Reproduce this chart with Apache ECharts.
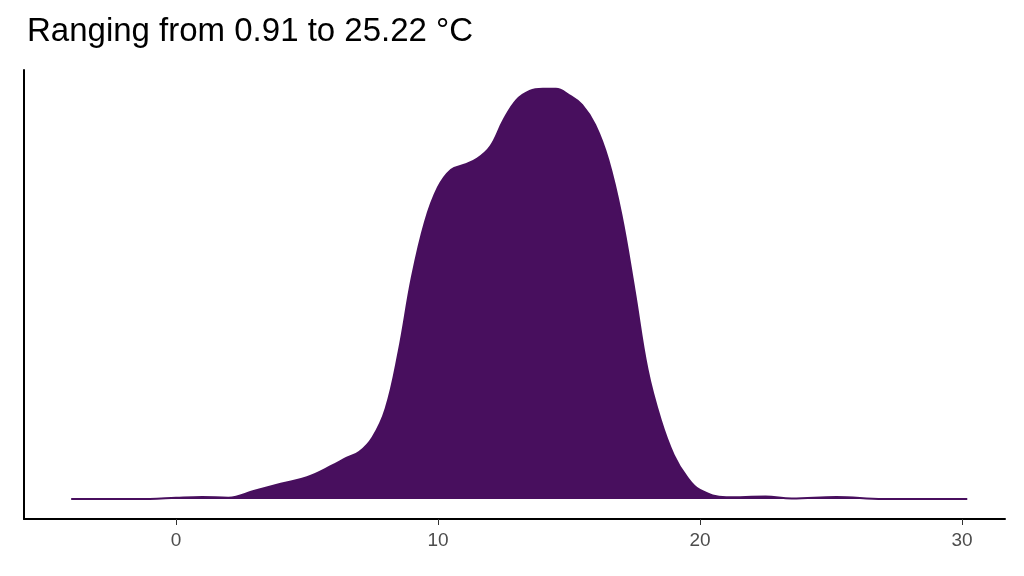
<!DOCTYPE html>
<html>
<head>
<meta charset="utf-8">
<script src="https://cdn.jsdelivr.net/npm/echarts@6/dist/echarts.min.js"></script>
<style>html,body{margin:0;background:#fff}#chart{width:1024px;height:576px}</style>
</head>
<body>
<div id="chart"></div>
<script>
// temperature (°C) and scaled density
const temps = [-4, -1, 0, 1, 2, 3, 4, 5, 6, 6.5, 7, 7.5, 8, 8.5, 9, 9.5, 10, 10.5, 11, 11.5, 12, 12.5, 13, 13.5, 14, 14.5, 15, 15.5, 16, 16.5, 17, 17.5, 18, 18.5, 19, 19.5, 20, 21, 22.5, 23.5, 25.2, 27, 30.2]
const density = [0, 0, 0.003, 0.005, 0.003, 0.02, 0.037, 0.053, 0.083, 0.1, 0.115, 0.15, 0.22, 0.36, 0.54, 0.675, 0.76, 0.803, 0.815, 0.83, 0.86, 0.924, 0.973, 0.995, 1, 1, 0.985, 0.961, 0.912, 0.827, 0.693, 0.51, 0.315, 0.193, 0.107, 0.054, 0.022, 0.004, 0.006, 0.001, 0.005, 0, 0]
const xTicks = [0, 10, 20, 30]

const chart = echarts.init(document.getElementById('chart'))
chart.setOption({
  animation: false,
  title: {
    text: 'Ranging from 0.91 to 25.22 °C',
    left: 22, top: 10,
    textStyle: { fontFamily: 'Liberation Sans', fontSize: 33, fontWeight: 'normal', color: '#000' }
  },
  grid: { left: 24, right: 19, top: 70, bottom: 57 },
  xAxis: {
    type: 'value', min: -5.8, max: 31.64,
    axisLine: { onZero: false, lineStyle: { color: '#000', width: 2 } },
    axisTick: { show: true, length: 6, lineStyle: { color: '#333' }, customValues: xTicks },
    axisLabel: { fontFamily: 'Liberation Sans', fontSize: 19, color: '#4d4d4d', margin: 12, customValues: xTicks },
    splitLine: { show: false }
  },
  yAxis: {
    type: 'value', min: -0.0488, max: 1.046,
    axisLine: { show: true, onZero: false, lineStyle: { color: '#000', width: 2 } },
    axisTick: { show: false }, axisLabel: { show: false }, splitLine: { show: false }
  },
  series: [{
    type: 'line', smooth: 0.4, symbol: 'none',
    data: temps.map((t, i) => [t, density[i]]),
    lineStyle: { color: '#480f5e', width: 2 },
    areaStyle: { color: '#480f5e', opacity: 1, origin: 0 }
  }]
})
</script>
</body>
</html>
